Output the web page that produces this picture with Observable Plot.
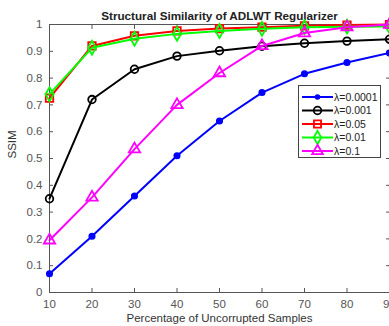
<!DOCTYPE html>
<html><head><meta charset="utf-8">
<script src="https://cdn.jsdelivr.net/npm/d3@7"></script>
<script src="https://cdn.jsdelivr.net/npm/@observablehq/plot@0.6"></script>
<style>
body{margin:0;background:#fff;}
#wrap{position:relative;width:389px;height:326px;font-family:"Liberation Sans",Arial,sans-serif;}
#legend{position:absolute;left:298px;top:85px;}
</style></head>
<body><div id="wrap"></div>
<script>
const percents = [10, 20, 30, 40, 50, 60, 70, 80, 90];
const seriesNames = ["λ=0.0001", "λ=0.001", "λ=0.05", "λ=0.01", "λ=0.1"];
const s0001 = [0.07, 0.21, 0.36, 0.51, 0.64, 0.746, 0.816, 0.858, 0.894];
const s001  = [0.35, 0.72, 0.833, 0.882, 0.902, 0.919, 0.930, 0.938, 0.945];
const s05   = [0.725, 0.92, 0.958, 0.976, 0.985, 0.990, 0.995, 0.998, 1.0];
const s01   = [0.74, 0.913, 0.947, 0.965, 0.976, 0.984, 0.990, 0.992, 0.993];
const s1    = [0.195, 0.355, 0.535, 0.70, 0.819, 0.92, 0.968, 0.99, 1.0];
const xTicks = [10, 20, 30, 40, 50, 60, 70, 80, 90];
const yTicks = [0, 0.1, 0.2, 0.3, 0.4, 0.5, 0.6, 0.7, 0.8, 0.9, 1];
const colors = ["#0000ff", "#000000", "#ff0000", "#00ff00", "#ff00ff"];
const symbols = ["circle", "circle", "square", "diamond", "triangle"];
const allValues = [s0001, s001, s05, s01, s1];

const rows = [];
allValues.forEach((vals, i) => vals.forEach((v, j) => rows.push({series: seriesNames[i], x: percents[j], y: v})));

const axisColor = "#555";
const tickFmt = d => String(+d.toFixed(1));

const marks = [
  Plot.frame({stroke: axisColor}),
  Plot.axisX(xTicks, {anchor: "bottom", tickSize: 0, tickPadding: 7, tickFormat: tickFmt, fill: axisColor, fontSize: 11.5, label: null}),
  Plot.axisX(xTicks, {anchor: "bottom", tickSize: -4, tickFormat: () => "", stroke: axisColor, label: null}),
  Plot.axisX(xTicks, {anchor: "top", tickSize: -4, tickFormat: () => "", stroke: axisColor, label: null}),
  Plot.axisY(yTicks, {anchor: "left", tickSize: 0, tickPadding: 7, tickFormat: tickFmt, fill: axisColor, fontSize: 11.5, label: null}),
  Plot.axisY(yTicks, {anchor: "left", tickSize: -4, tickFormat: () => "", stroke: axisColor, label: null}),
  Plot.axisY(yTicks, {anchor: "right", tickSize: -4, tickFormat: () => "", stroke: axisColor, label: null}),
  Plot.text(["Structural Similarity of ADLWT Regularizer"], {frameAnchor: "top", lineAnchor: "bottom", dy: -5, fontWeight: "bold", fontSize: 11.7, fill: "#222"}),
  Plot.text(["Percentage of Uncorrupted Samples"], {frameAnchor: "bottom", lineAnchor: "bottom", dy: 29, fontSize: 11.5, fill: "#333"}),
  Plot.text(["SSIM"], {frameAnchor: "left", dx: -37, rotate: -90, fontSize: 11.5, fill: "#333"})
];
seriesNames.forEach((name, i) => {
  const data = rows.filter(r => r.series === name);
  marks.push(Plot.line(data, {x: "x", y: "y", stroke: colors[i], strokeWidth: 2}));
  if (i === 0) {
    marks.push(Plot.dot(data, {x: "x", y: "y", r: 2.8, fill: colors[i], stroke: colors[i]}));
  } else {
    marks.push(Plot.dot(data, {x: "x", y: "y", r: i === 1 ? 3.8 : 4.2, symbol: symbols[i], fill: "none", stroke: colors[i], strokeWidth: 1.8}));
  }
});

const chart = Plot.plot({
  width: 389, height: 326,
  marginLeft: 49, marginRight: 0, marginTop: 24, marginBottom: 34,
  style: {fontFamily: "'Liberation Sans', Arial, sans-serif", background: "#fff"},
  x: {domain: [10, 90], axis: null},
  y: {domain: [0, 1], axis: null},
  marks
});
const wrap = document.getElementById("wrap");
wrap.appendChild(chart);

// legend
const lg = d3.select(wrap).append("svg").attr("id", "legend").attr("width", 83).attr("height", 73);
lg.append("rect").attr("x", 0.5).attr("y", 0.5).attr("width", 82).attr("height", 72).attr("fill", "#fff").attr("stroke", "#444");
seriesNames.forEach((name, i) => {
  const cy = 12 + i * 13.5;
  const g = lg.append("g");
  g.append("line").attr("x1", 4).attr("x2", 35).attr("y1", cy).attr("y2", cy).attr("stroke", colors[i]).attr("stroke-width", 2);
  if (i === 0) {
    g.append("circle").attr("cx", 19.5).attr("cy", cy).attr("r", 2.8).attr("fill", colors[i]);
  } else {
    const sym = d3.symbol(i === 1 ? d3.symbolCircle : i === 2 ? d3.symbolSquare : i === 3 ? d3.symbolDiamond : d3.symbolTriangle, i === 1 ? 45 : 50);
    g.append("path").attr("d", sym()).attr("transform", `translate(19.5,${cy})`).attr("fill", "none").attr("stroke", colors[i]).attr("stroke-width", 1.8);
  }
  g.append("text").attr("x", 36).attr("y", cy).attr("dy", "0.35em").attr("font-size", 10.5).attr("fill", "#222").text(name);
});
</script></body></html>
